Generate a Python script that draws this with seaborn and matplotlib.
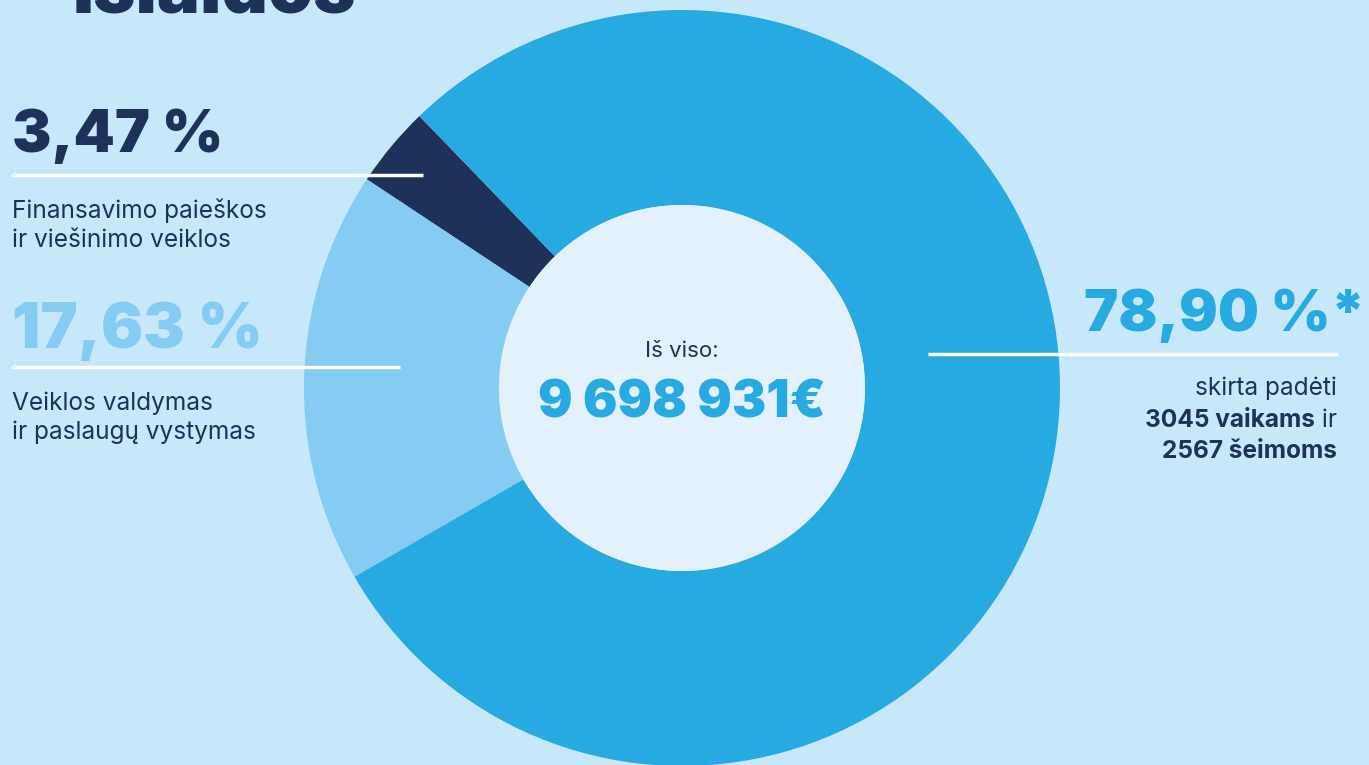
import numpy as np
import pandas as pd
import seaborn as sns
import matplotlib.pyplot as plt
from matplotlib.patches import Circle

# duomenys (išlaidų struktūra, %)
shares = [3.47, 17.63, 78.90]
share_labels = ['3,47 %', '17,63 %', '78,90 %*']
left_desc = [['Finansavimo paieškos', 'ir viešinimo veiklos'],
             ['Veiklos valdymas', 'ir paslaugų vystymas']]
total_label = '9 698 931€'
children = 3045
families = 2567

bg = '#C7E8FA'
navy = '#1D3159'
colors = sns.color_palette(['#1D3159', '#85CBF2', '#27A9E1'])

sns.set_theme(style='white', rc={'figure.facecolor': bg, 'axes.facecolor': bg})
plt.rcParams['font.family'] = ['Inter', 'DejaVu Sans']

W, H = 1369, 765
fig = plt.figure(figsize=(W / 100, H / 100), dpi=100)
ax = fig.add_axes([0, 0, 1, 1])

# donut
cx, cy, R, r_in = 682, 388, 378, 183
ax.pie(shares, colors=colors, center=(cx, cy), radius=R, startangle=-134,
       counterclock=False, frame=True,
       wedgeprops=dict(width=R - r_in, linewidth=0))
ax.add_patch(Circle((cx, cy), r_in, color='#E2F1FB', lw=0, zorder=3))
ax.set_xlim(0, W)
ax.set_ylim(H, 0)
ax.set_aspect('equal')
ax.axis('off')

heavy = 'black'
body = 17.6

# pavadinimas (nukirptas viršuje)
ax.text(73, 12, 'Išlaidos', fontsize=52, fontweight=heavy, color=navy, va='baseline')

# kairė pusė
ax.text(12, 152, share_labels[0], fontsize=42.5, fontweight=heavy, color=navy, va='baseline')
ax.plot([12, 423], [175, 175], color='white', lw=2.5, zorder=5, solid_capstyle='butt')
ax.text(12, 218, left_desc[0][0], fontsize=body, color=navy, va='baseline')
ax.text(12, 247, left_desc[0][1], fontsize=body, color=navy, va='baseline')

ax.text(12, 348, share_labels[1], fontsize=45, fontweight=heavy, color=colors[1], va='baseline')
ax.plot([12, 400], [367, 367], color='white', lw=2.5, zorder=5, solid_capstyle='butt')
ax.text(12, 410, left_desc[1][0], fontsize=body, color=navy, va='baseline')
ax.text(12, 439, left_desc[1][1], fontsize=body, color=navy, va='baseline')

# dešinė pusė
ax.text(1366, 331, share_labels[2], fontsize=41.5, fontweight=heavy, color=colors[2],
        va='baseline', ha='right')
ax.plot([928, 1338], [354, 354], color='white', lw=2.5, zorder=5, solid_capstyle='butt')
ax.text(1337, 395, 'skirta padėti', fontsize=body, color=navy, va='baseline', ha='right')
t_ir = ax.text(1337, 427, ' ir', fontsize=body, color=navy, va='baseline', ha='right')
ax.text(1337, 458, f'{families} šeimoms', fontsize=body, fontweight='bold', color=navy,
        va='baseline', ha='right')
fig.canvas.draw()
bb = t_ir.get_window_extent()
x_left = ax.transData.inverted().transform((bb.x0, 0))[0]
ax.text(x_left, 427, f'{children} vaikams', fontsize=body, fontweight='bold', color=navy,
        va='baseline', ha='right')

# centras
ax.text(cx, 357, 'Iš viso:', fontsize=16, color=navy, va='baseline', ha='center', zorder=6)
ax.text(cx, 417, total_label, fontsize=37, fontweight=heavy, color=colors[2],
        va='baseline', ha='center', zorder=6)

fig.savefig('out.png', dpi=100, facecolor=bg)
